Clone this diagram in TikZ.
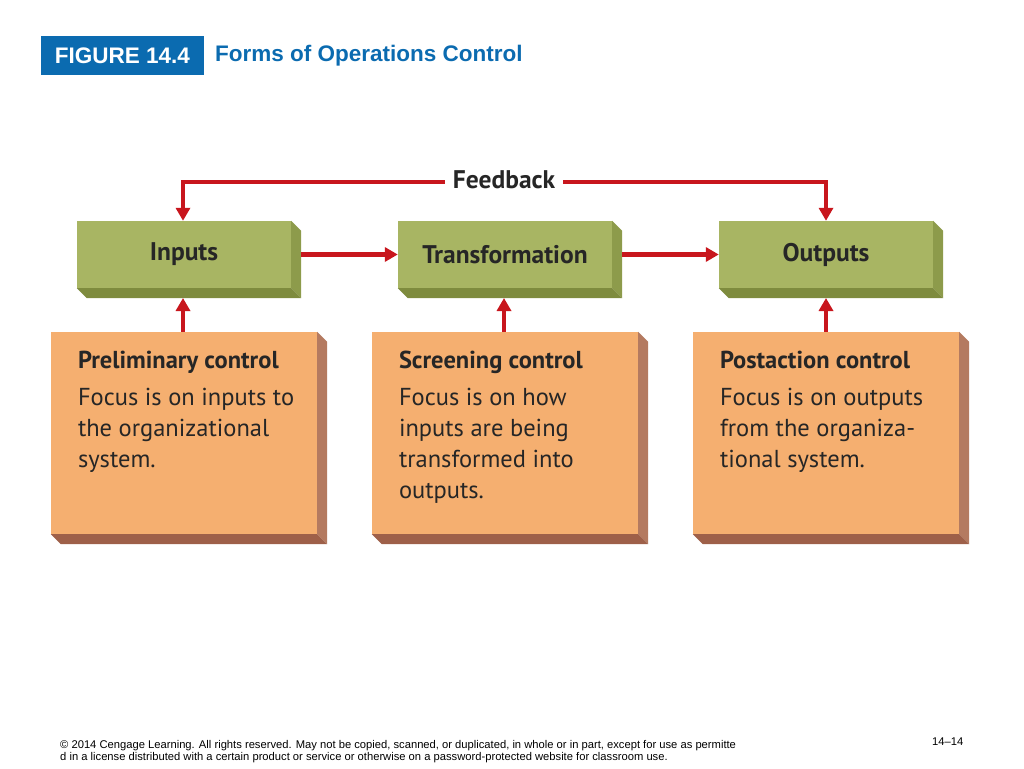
\documentclass[tikz,border=0pt]{standalone}
\usepackage{fontspec}
\setmainfont{Liberation Sans}
\newfontfamily\boxfont{PT Sans}
\usetikzlibrary{arrows.meta}
\definecolor{gfront}{HTML}{A8B563}
\definecolor{gside}{HTML}{8D9B4B}
\definecolor{gbot}{HTML}{7E8B3E}
\definecolor{ofront}{HTML}{F5AF70}
\definecolor{oside}{HTML}{B47A60}
\definecolor{obot}{HTML}{9E6049}
\definecolor{ared}{HTML}{C8161D}
\definecolor{hblue}{HTML}{0B6BB0}
\tikzset{
 lin/.style={draw=ared,line width=4.5pt},
 arr/.style={lin,-{Triangle[length=13pt,width=14pt]}},
 gbox/.style={fill=gfront,minimum width=214pt,minimum height=67pt,inner sep=0pt,font=\boxfont\fontsize{25.5}{27}\selectfont\bfseries,text=black!85},
 obox/.style={fill=ofront,minimum width=266pt,minimum height=202pt,inner sep=0pt},
}
\newcommand{\extr}[3]{% node, side color, bottom color
 \fill[#2] (#1.north east) -- ++(10pt,-10pt) -- ([shift={(10pt,-10pt)}]#1.south east) -- (#1.south east) -- cycle;
 \fill[#3] (#1.south west) -- ++(10pt,-10pt) -- ([shift={(10pt,-10pt)}]#1.south east) -- (#1.south east) -- cycle;}
\begin{document}
\begin{tikzpicture}[x=1pt,y=-1pt]
\useasboundingbox (0,0) rectangle (1024,768);
% header
\node[fill=hblue,text=white,font=\fontsize{22.5}{25}\selectfont\bfseries,minimum width=163pt,minimum height=39pt,inner sep=0pt] (fig) at (122.5,55.5) {FIGURE 14.4};
\node[anchor=west,text=hblue,font=\fontsize{22.5}{25}\selectfont\bfseries,inner sep=0pt] (title) at (215,55.5) {Forms of Operations Control};
% green boxes
\node[gbox] (in) at (184,254.5) {Inputs};
\node[gbox] (tr) at (505,254.5) {Transformation};
\node[gbox] (out) at (826,254.5) {Outputs};
\extr{in}{gside}{gbot}\extr{tr}{gside}{gbot}\extr{out}{gside}{gbot}
% orange boxes
\node[obox] (pc) at (184,433) {};
\node[obox] (sc) at (505,433) {};
\node[obox] (po) at (826,433) {};
\extr{pc}{oside}{obot}\extr{sc}{oside}{obot}\extr{po}{oside}{obot}
\foreach \n/\h/\t in {pc/Preliminary control/{Focus is on inputs to\\the organizational\\system.},
 sc/Screening control/{Focus is on how\\inputs are being\\transformed into\\outputs.},
 po/Postaction control/{Focus is on outputs\\from the organiza-\\tional system.}}{
 \node[anchor=north west,align=left,inner sep=0pt,text=black!85,font=\boxfont\fontsize{24.5}{31}\selectfont] (\n t) at ([shift={(27,19)}]\n.north west) {\textbf{\h}\\[6pt]\t};
}
% feedback
\node[font=\boxfont\fontsize{25.5}{27}\selectfont\bfseries,text=black!85,inner sep=8pt] (fb) at (504,180) {Feedback};
\coordinate (fl) at (183,182);
\coordinate (fr) at (826,182);
\draw[lin] (fb.west|-fl) -- ([xshift=-2.25pt]fl);
\draw[arr] (fl) -- (fl|-in.north);
\draw[lin] (fb.east|-fr) -- ([xshift=2.25pt]fr);
\draw[arr] (fr) -- (fr|-out.north);
% horizontal
\draw[arr] ([xshift=10pt]in.east) -- (tr.west);
\draw[arr] ([xshift=10pt]tr.east) -- (out.west);
% vertical
\draw[arr] (pc.north-|fl) -- (183,298);
\draw[arr] (504,332) -- (504,298);
\draw[arr] (po.north) -- (826,298);
% footer
\node[anchor=north west,align=left,inner sep=0pt,font=\fontsize{11.2}{12}\selectfont] (foot) at (60,740) {© 2014 Cengage Learning. All rights reserved. May not be copied, scanned, or duplicated, in whole or in part, except for use as permitte\\d in a license distributed with a certain product or service or otherwise on a password-protected website for classroom use.};
\node[anchor=north west,inner sep=0pt,font=\fontsize{11.2}{12}\selectfont] (pg) at (932,738) {14–14};
\end{tikzpicture}
\end{document}
